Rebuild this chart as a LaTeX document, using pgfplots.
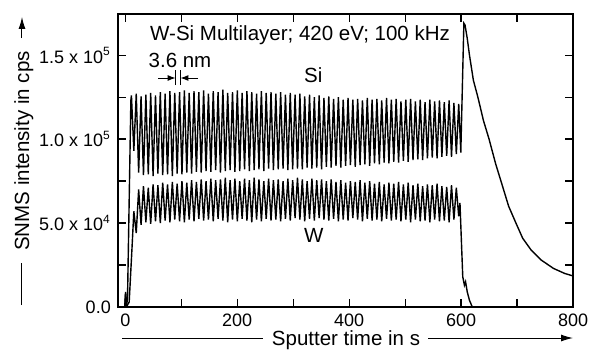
\documentclass[border=0pt]{standalone}
\usepackage{fontspec}
\setmainfont{Liberation Sans}
\usepackage{pgfplots}
\pgfplotsset{compat=1.18}
\usetikzlibrary{arrows.meta}
\pgfplotstableread{
x y
-13 0
-1 0
0.5 8000
2 0
4 5000
10 123000
11.0 126000
15.3 93000
19.6 127000
23.9 80000
28.2 125500
32.5 78500
36.8 126500
41.1 79000
45.4 127500
49.7 78000
54.0 126000
58.3 79500
62.6 128000
66.9 78500
71.2 127000
75.5 79000
79.8 128500
84.1 78000
88.4 127500
92.7 79500
97.0 128000
101.3 79000
105.6 129000
109.9 80000
114.2 127500
118.5 79500
122.8 128500
127.1 80500
131.4 128000
135.7 80000
140.0 129000
144.3 81000
148.6 127000
152.9 80500
157.2 128500
161.5 81500
165.8 128000
170.1 80000
174.4 129500
178.7 81000
183.0 127500
187.3 81500
191.6 128000
195.9 80500
200.2 129000
204.5 81000
208.8 127500
213.1 82000
217.4 128500
221.7 81000
226.0 128000
230.3 81500
234.6 127000
238.9 82000
243.2 128500
247.5 81000
251.8 127500
256.1 82500
260.4 128000
264.7 81500
269.0 127000
273.3 82000
277.6 128000
281.9 82500
286.2 126500
290.5 81500
294.8 127500
299.1 82000
303.4 126500
307.7 82500
312.0 127000
316.3 82000
320.6 125500
324.9 83000
329.2 126500
333.5 82500
337.8 125000
342.1 83000
346.4 126000
350.7 82000
355.0 124500
359.3 83500
363.6 125500
367.9 83000
372.2 124000
376.5 84000
380.8 125000
385.1 83000
389.4 123500
393.7 84000
398.0 124500
402.3 84500
406.6 123500
410.9 83500
415.2 124000
419.5 84500
423.8 123000
428.1 85000
432.4 124500
436.7 84000
441.0 123500
445.3 85500
449.6 124000
453.9 85000
458.2 123000
462.5 86000
466.8 124500
471.1 85500
475.4 123500
479.7 86500
484.0 124000
488.3 86000
492.6 122500
496.9 87000
501.2 123500
505.5 86500
509.8 124000
514.1 87500
518.4 122500
522.7 88000
527.0 123500
531.3 87500
535.6 122000
539.9 88500
544.2 123500
548.5 89000
552.8 122500
557.1 88500
561.4 123000
565.7 89500
570.0 122000
574.3 90000
578.6 123000
582.9 89500
587.2 121500
591.5 91000
595.8 121000
599.5 92000
605 169000
607 168000
611 160000
615 150000
622 135000
630 125000
640 111000
650 100000
662 85000
674 72000
685 60000
698 50000
710 41000
725 34000
743 28000
765 23000
785 20000
800 18500
}\sidata
\pgfplotstableread{
x y
-13 0
-1 0
0.5 9000
2 0
7 3000
12 35000
15.3 57000
19.6 44000
23.9 70000
28.2 49000
32.5 72000
36.8 50500
41.1 71000
45.4 49500
49.7 73000
54.0 51000
58.3 72500
62.6 50000
66.9 74000
71.2 51500
75.5 73000
79.8 50500
84.1 74500
88.4 52000
92.7 73500
97.0 51000
101.3 75000
105.6 50500
109.9 74000
114.2 52000
118.5 75500
122.8 51000
127.1 74500
131.4 52500
135.7 76000
140.0 51500
144.3 75000
148.6 52000
152.9 76500
157.2 51000
161.5 75500
165.8 52500
170.1 76000
174.4 51500
178.7 77000
183.0 50500
187.3 75500
191.6 52000
195.9 76500
200.2 51000
204.5 75000
208.8 52500
213.1 76500
217.4 51500
221.7 75500
226.0 50500
230.3 77000
234.6 52000
238.9 76000
243.2 51000
247.5 75000
251.8 52500
256.1 76500
260.4 51500
264.7 75500
269.0 52000
273.3 76000
277.6 51000
281.9 75000
286.2 52500
290.5 76500
294.8 51500
299.1 75500
303.4 53000
307.7 77000
312.0 52000
316.3 76000
320.6 51000
324.9 75000
329.2 52500
333.5 76500
337.8 51500
342.1 75500
346.4 53000
350.7 76000
355.0 52000
359.3 75000
363.6 51500
367.9 76000
372.2 52500
376.5 74500
380.8 51000
385.1 75500
389.4 52000
393.7 74000
398.0 51500
402.3 75000
406.6 53000
410.9 74500
415.2 52000
419.5 75500
423.8 51000
428.1 74000
432.4 52500
436.7 75000
441.0 51500
445.3 73500
449.6 52000
453.9 74500
458.2 51000
462.5 73000
466.8 52500
471.1 74000
475.4 51500
479.7 73500
484.0 52000
488.3 74500
492.6 51000
496.9 73000
501.2 52000
505.5 74000
509.8 50500
514.1 72500
518.4 52000
522.7 73500
527.0 51000
531.3 72000
535.6 51500
539.9 73000
544.2 50500
548.5 72500
552.8 52000
557.1 73500
561.4 51000
565.7 72000
570.0 51500
574.3 71500
578.6 50500
582.9 72500
587.2 52000
591.5 71000
595.8 54000
598 62000
603 18000
606 13000
608 15000
611 9000
615 4000
620 0
625 0
}\wdata
\begin{document}
\fontsize{10.25pt}{12pt}\selectfont
\begin{tikzpicture}
\begin{axis}[
  scale only axis, width=227.5pt, height=146.5pt,
  xmin=-13, xmax=800, ymin=0, ymax=174500,
  axis line style={line width=0.8pt},
  tick align=inside, major tick length=4pt,
  tick style={line width=0.6pt, black},
  tick label style={font=\fontsize{9pt}{10pt}\selectfont},
  xtick={0,100,...,800}, xticklabels={0,,200,,400,,600,,800},
  ytick={0,25000,...,150000},
  yticklabels={0.0,,5.0 x 10\textsuperscript{4},,1.0 x 10\textsuperscript{5},,1.5 x 10\textsuperscript{5}},
  scaled ticks=false,
  every axis plot/.append style={line width=0.7pt, black},
]
\addplot[no markers] table[x=x,y=y] {\sidata};
\addplot[no markers] table[x=x,y=y] {\wdata};
\end{axis}
\node[anchor=base west] at (12.5pt,133.5pt) {W-Si Multilayer; 420 eV; 100 kHz};
\node[anchor=base] at (31pt,120pt) {3.6 nm};
\draw[line width=0.5pt,-{Latex[length=4pt,width=3pt]}] (20pt,114.5pt) -- (28.8pt,114.5pt);
\draw[line width=0.5pt,-{Latex[length=4pt,width=3pt]}] (40pt,114.5pt) -- (31.2pt,114.5pt);
\draw[line width=0.5pt] (28.8pt,111pt) -- (28.8pt,118.5pt);
\draw[line width=0.5pt] (31.2pt,111pt) -- (31.2pt,118.5pt);
\node[anchor=base west] at (89.5pt,112.5pt) {Si};
\node[anchor=base west] at (89.5pt,32.5pt) {W};
\draw[line width=0.5pt] (2pt,-15.5pt) -- (72.5pt,-15.5pt);
\node[anchor=base] at (114pt,-19pt) {Sputter time in s};
\draw[line width=0.5pt,-{Latex[length=6pt,width=3.5pt]}] (155pt,-15.5pt) -- (227.5pt,-15.5pt);
\node[rotate=90, anchor=base] at (-44.5pt,78pt) {SNMS intensity in cps};
\draw[line width=0.5pt] (-48pt,1pt) -- (-48pt,22pt);
\draw[line width=0.5pt,-{Latex[length=6pt,width=3.5pt]}] (-48pt,134.5pt) -- (-48pt,145pt);
\pgfresetboundingbox
\path (-59pt,-23.5pt) rectangle (237pt,153.5pt);
\end{tikzpicture}
\end{document}
